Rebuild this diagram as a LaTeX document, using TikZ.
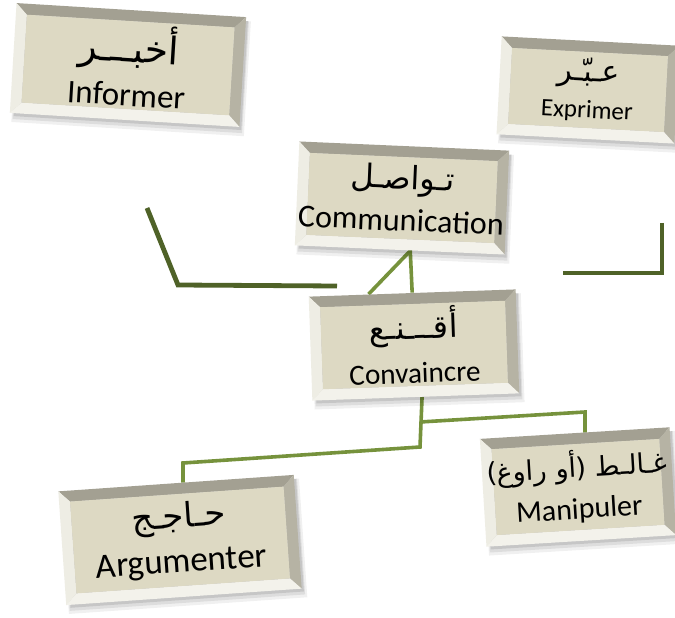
\documentclass[tikz,border=0pt]{standalone}
\usepackage{fontspec}
\setmainfont{Carlito}
\newfontfamily\arabicfont[Script=Arabic]{DejaVu Sans}
\TeXXeTstate=1
\usetikzlibrary{calc}
\definecolor{face}{HTML}{DDD9C3}
\definecolor{bevtop}{HTML}{A3A092}
\definecolor{bevright}{HTML}{B6B3A4}
\definecolor{bevleft}{HTML}{EEEDE4}
\definecolor{bevbottom}{HTML}{F3F2EB}
\definecolor{olivedark}{HTML}{4F6228}
\definecolor{olive}{HTML}{76923C}
\pgfdeclarelayer{bg}
\pgfsetlayers{bg,main}
\tikzset{
  boxnode/.style = {align=center, inner sep=0pt, text centered, transform shape,
    draw=none},
  link/.style = {olive, line width=1.8pt},% arbre du bas
  bracket/.style = {olivedark, line width=2.4pt},% crochets du haut
}
\newcommand{\arsize}[1]{\arabicfont\fontsize{#1}{#1}\selectfont}
\newcommand{\frsize}[1]{\fontsize{#1}{#1}\selectfont}
% #1 name, #2 x, #3 y, #4 angle, #5 width, #6 height, #7 text
\newcommand{\bevelbox}[7]{%
  \begin{scope}[shift={(#2,#3)}, rotate=#4]
    \fill[black, opacity=.06] ({-#5/2+2},{-#6/2-9}) rectangle ({#5/2+5},{#6/2-4});
    \fill[black, opacity=.08] ({-#5/2+3},{-#6/2-6}) rectangle ({#5/2+3},{#6/2-4});
    \fill[black, opacity=.10] ({-#5/2+4},{-#6/2-3}) rectangle ({#5/2+2},{#6/2-4});
    \fill[bevtop] ({-#5/2},{#6/2}) -- ({#5/2},{#6/2}) -- ({#5/2-11},{#6/2-11})
      -- ({-#5/2+11},{#6/2-11}) -- cycle;
    \fill[bevright] ({#5/2},{#6/2}) -- ({#5/2},{-#6/2}) -- ({#5/2-11},{-#6/2+11})
      -- ({#5/2-11},{#6/2-11}) -- cycle;
    \fill[bevbottom] ({#5/2},{-#6/2}) -- ({-#5/2},{-#6/2}) -- ({-#5/2+11},{-#6/2+11})
      -- ({#5/2-11},{-#6/2+11}) -- cycle;
    \fill[bevleft] ({-#5/2},{-#6/2}) -- ({-#5/2},{#6/2}) -- ({-#5/2+11},{#6/2-11})
      -- ({-#5/2+11},{-#6/2+11}) -- cycle;
    \fill[face] ({-#5/2+11},{-#6/2+11}) rectangle ({#5/2-11},{#6/2-11});
    \node[boxnode, minimum width={#5*0.5pt}, minimum height={#6*0.5pt}] (#1) at (0,0) {#7};
  \end{scope}}

\begin{document}
\begin{tikzpicture}[x=0.5pt, y=0.5pt]
  \begin{pgfonlayer}{bg}
    \fill[white] (0,0) rectangle (675,617);
  \end{pgfonlayer}
  \useasboundingbox (0,0) rectangle (675,617);

  \bevelbox{inform}{128}{552}{-3.5}{230}{110}{{\arsize{19}\beginR أخبـــر\endR}\\[5pt]{\frsize{16.5}Informer}}
  \bevelbox{expr}{588}{527}{-3}{178}{98}{{\arsize{15}\beginR عـبّـر\endR}\\[5pt]{\frsize{12.5}Exprimer}}
  \bevelbox{comm}{402}{419}{-2.5}{210}{104}{{\arsize{16}\beginR تـواصـل\endR}\\[5pt]{\frsize{16}Communication}}
  \bevelbox{conv}{414}{272}{2}{207}{104}{{\arsize{16}\beginR أقـــنـع\endR}\\[7pt]{\frsize{14.6}Convaincre}}
  \bevelbox{manip}{578}{130}{3.5}{190}{108}{{\arsize{13.5}\beginR غـالـط (أو راوغ)\endR}\\[6pt]{\frsize{15}Manipuler}}
  \bevelbox{argu}{180}{77}{4}{236}{114}{{\arsize{17}\beginR حـاجـج\endR}\\[6pt]{\frsize{17.5}Argumenter}}

  % crochets
  \coordinate (lt) at (147,409);
  \coordinate (lb) at (178,332);
  \coordinate (le) at (337,331);
  \coordinate (rt) at (662,394);
  \coordinate (rb) at (662,344);
  \coordinate (re) at (563,344);
  \draw[bracket] (lt) -- (lb) -- (le);
  \draw[bracket] (rt) -- (rb) -- (re);

  \begin{pgfonlayer}{bg}
    \coordinate (apex) at ($(comm.south)!.1!(comm.south east)$);
    \draw[link] ($(conv.north)!.42!(conv.north west)$) -- (apex) -- (conv.north);
    \coordinate (cs) at ($(conv.south)!.06!(conv.south east)$);
    \coordinate (mid) at (420,195);
    \coordinate (fork) at (420,170);
    \coordinate (mbend) at (585,205);
    \coordinate (abend) at (183,154);
    \draw[link] (cs) -- (fork) -- (abend) -- (abend |- argu.north);
    \draw[link] (mid) -- (mbend) -- (mbend |- manip.north);
  \end{pgfonlayer}
\end{tikzpicture}
\end{document}
